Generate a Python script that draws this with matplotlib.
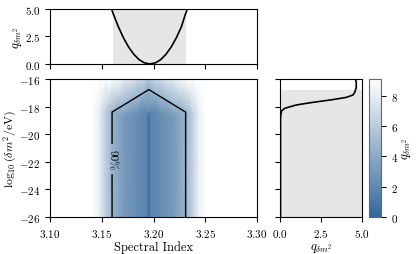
import numpy as np
import matplotlib
matplotlib.use('Agg')
import matplotlib.pyplot as plt
from matplotlib.colors import LinearSegmentedColormap

plt.rcParams['font.family'] = 'serif'
plt.rcParams['font.serif'] = ['cmr10']
plt.rcParams['mathtext.fontset'] = 'cm'
plt.rcParams['axes.formatter.use_mathtext'] = True
plt.rcParams['font.size'] = 8

# top marginal: profile of q over spectral index
top_x = [3.151, 3.156, 3.161, 3.166, 3.171, 3.176, 3.181, 3.186, 3.191, 3.1965,
         3.202, 3.207, 3.212, 3.217, 3.222, 3.227, 3.231, 3.237, 3.242]
top_q = [7.6, 6.0, 4.58, 3.4, 2.37, 1.53, 0.88, 0.40, 0.11, 0.0,
         0.11, 0.40, 0.88, 1.53, 2.37, 3.40, 4.58, 6.0, 7.6]

# right marginal: profile of q over log10(dm^2)
right_m = [-26.0, -24.0, -22.0, -20.0, -19.0, -18.65, -18.3, -18.12, -17.88, -17.69,
           -17.49, -17.33, -17.16, -16.96, -16.8, -16.6, -16.24, -16.0]
right_q = [0.03, 0.03, 0.03, 0.03, 0.03, 0.04, 0.1, 0.3, 1.0, 2.02,
           3.24, 4.05, 4.45, 4.56, 4.6, 4.65, 4.65, 4.6]

# 2D map of q on a coarse grid (rows in log10 dm^2)
map_x = [3.100, 3.140, 3.147, 3.153, 3.160, 3.172, 3.184, 3.1935, 3.1955, 3.1975,
         3.207, 3.219, 3.231, 3.238, 3.244, 3.251, 3.300]
map_m = [-26.0, -18.8, -18.4, -16.0]
row_low = [9.1, 9.1, 8.3, 6.4, 4.6, 3.0, 2.3, 1.8, 0.4, 1.8, 2.3, 3.0, 4.6, 6.4, 8.3, 9.1, 9.1]
row_mid = [9.1, 9.1, 8.3, 6.4, 4.6, 3.59, 2.57, 1.77, 1.6, 1.77, 2.57, 3.59, 4.6, 6.4, 8.3, 9.1, 9.1]
row_top = [9.5, 9.5, 9.3, 9.1, 9.03, 8.02, 7.0, 6.2, 6.03, 6.2, 7.0, 8.02, 9.03, 9.1, 9.3, 9.5, 9.5]
q_map = np.array([row_low, row_low, row_mid, row_top])

level_90 = 4.61

fig = plt.figure(figsize=(4.16, 2.55), dpi=100)
ax_main = fig.add_axes([0.1202, 0.1451, 0.4976, 0.5412])
ax_top = fig.add_axes([0.1202, 0.7451, 0.4976, 0.2157])
ax_right = fig.add_axes([0.6731, 0.1451, 0.1971, 0.5412])
cax = fig.add_axes([0.887, 0.1451, 0.0288, 0.5412])

cmap = LinearSegmentedColormap.from_list('qmap', ['#33679a', '#ffffff'])
mesh = ax_main.pcolormesh(map_x, map_m, q_map, shading='gouraud', cmap=cmap, vmin=0, vmax=9.1)
cs = ax_main.contour(map_x, map_m, q_map, levels=[level_90], colors='k', linewidths=1)
labels = ax_main.clabel(cs, fmt={level_90: '90%'}, manual=[(3.16, -21.8)], inline=True, fontsize=8)
for t in labels:
    t.set_rotation(-90)
ax_main.set_xlim(3.10, 3.30)
ax_main.set_ylim(-26, -16)
ax_main.set_xticks([3.10, 3.15, 3.20, 3.25, 3.30])
ax_main.set_yticks([-26, -24, -22, -20, -18, -16])
ax_main.set_xlabel('Spectral Index', fontsize=9, labelpad=1)
ax_main.set_ylabel(r'$\log_{10}(\delta m^2/{\rm eV})$', fontsize=8.5, labelpad=0)

top_x = np.array(top_x)
top_q = np.array(top_q)
ax_top.fill_between(top_x, 0, 5, where=top_q < level_90, color='0.9', lw=0)
ax_top.plot(top_x, top_q, color='k', lw=1.2)
ax_top.set_xlim(3.10, 3.30)
ax_top.set_ylim(0, 5)
ax_top.set_xticks([3.10, 3.15, 3.20, 3.25, 3.30])
ax_top.set_xticklabels([])
ax_top.set_yticks([0, 2.5, 5.0])
ax_top.set_ylabel(r'$q_{\delta m^2}$', fontsize=9, labelpad=0)

right_m = np.array(right_m)
right_q = np.array(right_q)
ax_right.fill_betweenx(right_m, 0, 5, where=right_q < level_90, color='0.9', lw=0)
ax_right.plot(right_q, right_m, color='k', lw=1.2)
ax_right.set_xlim(0, 5)
ax_right.set_ylim(-26, -16)
ax_right.set_xticks([0, 2.5, 5.0])
ax_right.set_yticks([-26, -24, -22, -20, -18, -16])
ax_right.set_yticklabels([])
ax_right.set_xlabel(r'$q_{\delta m^2}$', fontsize=9, labelpad=2)

cb = fig.colorbar(mesh, cax=cax)
cb.set_ticks([0, 2, 4, 6, 8])
cb.set_label(r'$q_{\delta m^2}$', fontsize=9, labelpad=2)
cb.outline.set_edgecolor('0.4')

plt.savefig('out.png', dpi=100)
